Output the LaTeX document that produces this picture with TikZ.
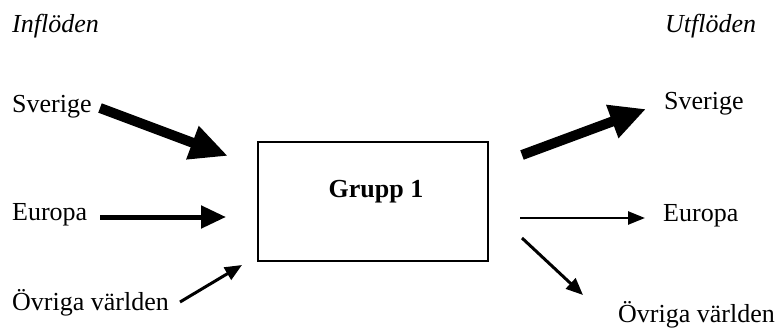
\documentclass[tikz,border=0pt]{standalone}
\usepackage{fontspec}
\setmainfont{Liberation Serif}
\usetikzlibrary{arrows.meta}
\begin{document}
\begin{tikzpicture}[x=1pt,y=-1pt,
  lbl/.style={anchor=base west,inner sep=0pt,font=\fontsize{26}{30}\selectfont},
  title/.style={lbl,font=\fontsize{26}{30}\selectfont\itshape},
  flow/.style n args={3}{draw,line width=#1,-{Triangle[length=#2,width=#3]}},
  grpbox/.style={draw,line width=1.4pt,minimum width=230pt,minimum height=119pt,inner sep=0pt}
]
\useasboundingbox (0,0) rectangle (782,329);

% headings
\node[title] (inH)  at (12,33)  {Inflöden};
\node[title] (utH)  at (665,33) {Utflöden};

% sources
\node[lbl] (inSv) at (12,112)  {Sverige};
\node[lbl] (inEu) at (12,220)  {Europa};
\node[lbl] (inOv) at (12,310)  {Övriga världen};

% destinations
\node[lbl] (utSv) at (664,110) {Sverige};
\node[lbl] (utEu) at (663,221) {Europa};
\node[lbl] (utOv) at (618,322) {Övriga världen};

% the group
\node[grpbox] (grp) at (373,201.5) {};
\node[anchor=base,inner sep=0pt,font=\fontsize{26}{30}\selectfont\bfseries] (grpT) at (376,197) {Grupp 1};

% arrow end points
\coordinate (aSv0) at (100,108);  \coordinate (aSv1) at (228,156);
\coordinate (aEu0) at (100,217);  \coordinate (aEu1) at (226,217);
\coordinate (aOv0) at (180,302);  \coordinate (aOv1) at (242,265);
\coordinate (bSv0) at (522,155);  \coordinate (bSv1) at (646,109);
\coordinate (bEu0) at (520,218);  \coordinate (bEu1) at (645,218);
\coordinate (bOv0) at (522,238);  \coordinate (bOv1) at (583,295);

% inflows
\draw[flow={10pt}{38pt}{33pt}] (aSv0) -- (aSv1);
\draw[flow={5pt}{25pt}{22pt}]  (aEu0) -- (aEu1);
\draw[flow={3pt}{17pt}{14pt}]  (aOv0) -- (aOv1);

% outflows
\draw[flow={10pt}{36pt}{33pt}] (bSv0) -- (bSv1);
\draw[flow={2.5pt}{17pt}{13pt}] (bEu0) -- (bEu1);
\draw[flow={3pt}{17pt}{14pt}]  (bOv0) -- (bOv1);
\end{tikzpicture}
\end{document}
